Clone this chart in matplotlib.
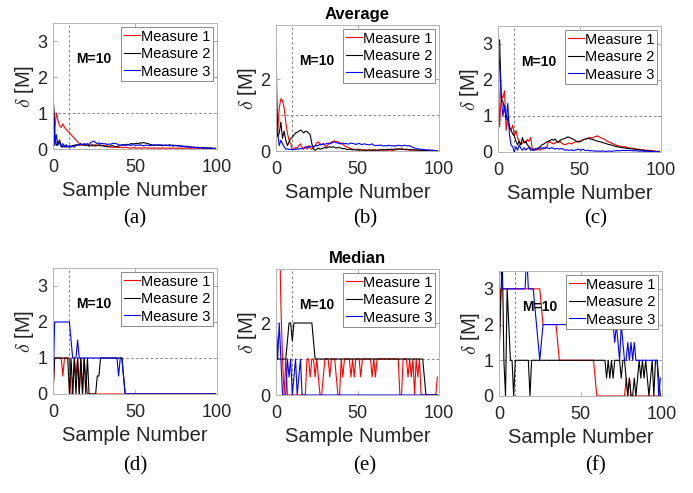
import numpy as np
import matplotlib
matplotlib.use("Agg")
import matplotlib.pyplot as plt

plt.rcParams['font.family'] = ['Liberation Sans', 'DejaVu Sans']
plt.rcParams['mathtext.fontset'] = 'cm'

labels = ['Measure 1', 'Measure 2', 'Measure 3']
colors = ['#ff0000', '#000000', '#0000ff']
captions = ['(a)', '(b)', '(c)', '(d)', '(e)', '(f)']
titles = ['', 'Average', '', '', 'Median', '']
xticks = [0, 50, 100]
M = 10
threshold = 1

# ---- Average, (a)
a_m1 = [1.55, 0.45, 1.0, 0.8, 0.65, 0.6, 0.7, 0.6, 0.55, 0.5,
        0.45, 0.4, 0.35, 0.3, 0.25, 0.2, 0.15, 0.1, 0.12, 0.12,
        0.1, 0.12, 0.1, 0.1, 0.08, 0.1, 0.12, 0.1, 0.1, 0.08,
        0.1, 0.08, 0.1, 0.08, 0.06, 0.05, 0.05, 0.04, 0.06, 0.05,
        0.04, 0.05, 0.04, 0.03, 0.04, 0.05, 0.03, 0.02, 0.03, 0.04,
        0.03, 0.02, 0.03, 0.03, 0.02, 0.03, 0.04, 0.03, 0.02, 0.03,
        0.02, 0.03, 0.03, 0.02, 0.03, 0.02, 0.02, 0.03, 0.02, 0.02,
        0.03, 0.02, 0.02, 0.03, 0.02, 0.02, 0.02, 0.03, 0.02, 0.02,
        0.02, 0.03, 0.02, 0.02, 0.02, 0.02, 0.03, 0.02, 0.02, 0.02,
        0.02, 0.02, 0.02, 0.01, 0.02, 0.01, 0.02, 0.01, 0.01, 0.01]
a_m2 = [1.6, 0.5, 0.1, 0.15, 0.25, 0.1, 0.05, 0.1, 0.05, 0.08,
        0.05, 0.08, 0.1, 0.1, 0.12, 0.1, 0.12, 0.14, 0.12, 0.1,
        0.12, 0.1, 0.08, 0.1, 0.12, 0.1, 0.08, 0.1, 0.12, 0.1,
        0.1, 0.08, 0.07, 0.06, 0.08, 0.08, 0.1, 0.08, 0.07, 0.06,
        0.08, 0.1, 0.12, 0.1, 0.12, 0.13, 0.12, 0.14, 0.15, 0.14,
        0.15, 0.16, 0.15, 0.17, 0.16, 0.18, 0.17, 0.16, 0.15, 0.13,
        0.12, 0.1, 0.11, 0.1, 0.12, 0.11, 0.1, 0.09, 0.1, 0.11,
        0.1, 0.12, 0.1, 0.11, 0.1, 0.1, 0.09, 0.1, 0.08, 0.08,
        0.07, 0.08, 0.07, 0.06, 0.06, 0.05, 0.05, 0.04, 0.05, 0.04,
        0.04, 0.03, 0.04, 0.03, 0.03, 0.02, 0.03, 0.02, 0.02, 0.02]
a_m3 = [1.65, 0.1, 0.4, 0.1, 0.2, 0.05, 0.15, 0.05, 0.12, 0.05,
        0.1, 0.05, 0.08, 0.05, 0.1, 0.12, 0.1, 0.15, 0.12, 0.15,
        0.13, 0.15, 0.12, 0.18, 0.2, 0.22, 0.18, 0.15, 0.17, 0.14,
        0.16, 0.14, 0.15, 0.12, 0.14, 0.13, 0.15, 0.16, 0.15, 0.14,
        0.12, 0.1, 0.11, 0.12, 0.1, 0.11, 0.12, 0.1, 0.11, 0.12,
        0.1, 0.11, 0.1, 0.12, 0.1, 0.09, 0.1, 0.11, 0.1, 0.09,
        0.1, 0.11, 0.12, 0.1, 0.11, 0.1, 0.12, 0.1, 0.11, 0.1,
        0.1, 0.09, 0.1, 0.08, 0.09, 0.1, 0.08, 0.09, 0.07, 0.08,
        0.06, 0.07, 0.05, 0.06, 0.05, 0.04, 0.05, 0.04, 0.04, 0.03,
        0.04, 0.03, 0.03, 0.02, 0.03, 0.02, 0.02, 0.02, 0.01, 0.01]

# ---- Average, (b)
b_m1 = [2.9, 0.5, 1.2, 1.45, 1.4, 1.2, 0.8, 0.5, 0.3, 0.2,
        0.05, 0.05, 0.1, 0.08, 0.15, 0.2, 0.1, 0.05, 0.12, 0.05,
        0.15, 0.08, 0.05, 0.1, 0.15, 0.22, 0.25, 0.2, 0.18, 0.2,
        0.15, 0.12, 0.18, 0.22, 0.25, 0.27, 0.28, 0.26, 0.25, 0.24,
        0.2, 0.18, 0.15, 0.12, 0.1, 0.08, 0.07, 0.05, 0.04, 0.05,
        0.04, 0.03, 0.04, 0.03, 0.02, 0.03, 0.02, 0.03, 0.02, 0.03,
        0.02, 0.03, 0.02, 0.02, 0.03, 0.02, 0.02, 0.03, 0.02, 0.02,
        0.03, 0.02, 0.02, 0.03, 0.04, 0.05, 0.04, 0.06, 0.05, 0.04,
        0.03, 0.04, 0.03, 0.02, 0.03, 0.02, 0.02, 0.03, 0.02, 0.02,
        0.02, 0.02, 0.01, 0.02, 0.01, 0.01, 0.02, 0.01, 0.01, 0.01]
b_m2 = [1.5, 0.4, 0.5, 0.8, 0.35, 0.55, 0.3, 0.15, 0.25, 0.35,
        0.38, 0.45, 0.5, 0.52, 0.55, 0.58, 0.55, 0.5, 0.55, 0.54,
        0.5, 0.45, 0.2, 0.05, 0.02, 0.05, 0.08, 0.05, 0.06, 0.08,
        0.1, 0.08, 0.1, 0.12, 0.1, 0.12, 0.1, 0.08, 0.1, 0.09,
        0.08, 0.06, 0.07, 0.05, 0.04, 0.05, 0.04, 0.03, 0.04, 0.03,
        0.03, 0.02, 0.03, 0.02, 0.03, 0.02, 0.02, 0.03, 0.02, 0.02,
        0.03, 0.02, 0.02, 0.03, 0.04, 0.03, 0.04, 0.03, 0.04, 0.05,
        0.04, 0.05, 0.04, 0.06, 0.05, 0.06, 0.05, 0.06, 0.05, 0.04,
        0.05, 0.04, 0.03, 0.04, 0.03, 0.03, 0.02, 0.03, 0.02, 0.02,
        0.02, 0.02, 0.01, 0.02, 0.01, 0.01, 0.01, 0.01, 0.01, 0.01]
b_m3 = [1.9, 0.5, 0.15, 0.3, 0.2, 0.12, 0.05, 0.06, 0.04, 0.05,
        0.04, 0.05, 0.04, 0.06, 0.05, 0.07, 0.06, 0.08, 0.1, 0.12,
        0.1, 0.12, 0.13, 0.12, 0.15, 0.14, 0.16, 0.18, 0.17, 0.2,
        0.19, 0.2, 0.22, 0.2, 0.22, 0.24, 0.25, 0.23, 0.22, 0.2,
        0.21, 0.22, 0.2, 0.21, 0.19, 0.2, 0.22, 0.21, 0.2, 0.18,
        0.2, 0.21, 0.19, 0.18, 0.2, 0.19, 0.18, 0.17, 0.18, 0.2,
        0.16, 0.15, 0.16, 0.15, 0.17, 0.15, 0.14, 0.15, 0.14, 0.16,
        0.15, 0.14, 0.15, 0.13, 0.15, 0.16, 0.15, 0.14, 0.15, 0.16,
        0.15, 0.14, 0.15, 0.12, 0.1, 0.08, 0.07, 0.06, 0.05, 0.05,
        0.04, 0.04, 0.03, 0.03, 0.03, 0.02, 0.02, 0.02, 0.01, 0.01]

# ---- Average, (c)
c_m1 = [2.8, 0.7, 1.6, 1.5, 1.7, 0.6, 1.0, 0.7, 0.6, 0.75,
        0.45, 0.6, 0.4, 0.3, 0.2, 0.25, 0.3, 0.25, 0.35, 0.3,
        0.4, 0.1, 0.08, 0.05, 0.06, 0.08, 0.05, 0.1, 0.08, 0.12,
        0.15, 0.3, 0.28, 0.25, 0.22, 0.25, 0.28, 0.26, 0.3, 0.25,
        0.22, 0.2, 0.22, 0.24, 0.25, 0.22, 0.25, 0.27, 0.28, 0.3,
        0.3, 0.32, 0.33, 0.35, 0.36, 0.38, 0.4, 0.4, 0.38, 0.42,
        0.43, 0.45, 0.42, 0.4, 0.38, 0.36, 0.33, 0.3, 0.28, 0.26,
        0.24, 0.22, 0.2, 0.18, 0.17, 0.16, 0.15, 0.14, 0.15, 0.13,
        0.12, 0.11, 0.1, 0.1, 0.09, 0.08, 0.08, 0.07, 0.06, 0.06,
        0.05, 0.05, 0.05, 0.04, 0.04, 0.03, 0.03, 0.02, 0.02, 0.02]
c_m2 = [3.15, 3.1, 1.5, 1.4, 1.2, 1.0, 0.9, 0.7, 0.6, 0.5,
        0.45, 0.3, 0.2, 0.3, 0.2, 0.4, 0.25, 0.3, 0.2, 0.15,
        0.1, 0.06, 0.05, 0.08, 0.1, 0.12, 0.15, 0.2, 0.22, 0.25,
        0.28, 0.3, 0.32, 0.35, 0.33, 0.36, 0.3, 0.28, 0.32, 0.35,
        0.36, 0.38, 0.4, 0.42, 0.4, 0.38, 0.36, 0.33, 0.3, 0.28,
        0.28, 0.3, 0.33, 0.35, 0.36, 0.38, 0.37, 0.36, 0.35, 0.33,
        0.32, 0.3, 0.29, 0.28, 0.27, 0.25, 0.24, 0.22, 0.21, 0.2,
        0.19, 0.17, 0.16, 0.15, 0.14, 0.13, 0.12, 0.12, 0.11, 0.1,
        0.1, 0.09, 0.09, 0.08, 0.08, 0.07, 0.06, 0.06, 0.05, 0.05,
        0.04, 0.04, 0.03, 0.03, 0.02, 0.02, 0.02, 0.01, 0.01, 0.01]
c_m3 = [3.1, 2.4, 1.5, 1.0, 1.3, 0.9, 1.35, 0.5, 0.2, 0.15,
        0.0, 0.15, 0.05, 0.2, 0.1, 0.05, 0.12, 0.05, 0.1, 0.12,
        0.05, 0.06, 0.05, 0.1, 0.08, 0.1, 0.12, 0.1, 0.12, 0.1,
        0.12, 0.1, 0.1, 0.12, 0.1, 0.08, 0.1, 0.09, 0.08, 0.1,
        0.08, 0.05, 0.06, 0.05, 0.05, 0.06, 0.04, 0.05, 0.06, 0.08,
        0.06, 0.05, 0.08, 0.05, 0.04, 0.05, 0.03, 0.04, 0.03, 0.03,
        0.02, 0.03, 0.02, 0.02, 0.03, 0.02, 0.02, 0.02, 0.03, 0.02,
        0.02, 0.03, 0.03, 0.04, 0.03, 0.04, 0.04, 0.05, 0.04, 0.04,
        0.05, 0.04, 0.04, 0.03, 0.04, 0.03, 0.03, 0.02, 0.03, 0.02,
        0.02, 0.02, 0.02, 0.01, 0.02, 0.01, 0.01, 0.01, 0.01, 0.01]

# ---- Median, (d)
d_m1 = [0, 1, 1, 1, 1, 1, 0.5, 1, 1, 1,
        1, 0, 0, 1, 0.5, 1, 0, 1, 0, 1,
        0.5, 0, 0, 0, 0, 0, 0, 0, 0, 0,
        0, 0, 0, 0, 0, 0, 0, 0, 0, 0,
        0, 0, 0, 0, 0, 0, 0, 0, 0, 0,
        0, 0, 0, 0, 0, 0, 0, 0, 0, 0,
        0, 0, 0, 0, 0, 0, 0, 0, 0, 0,
        0, 0, 0, 0, 0, 0, 0, 0, 0, 0,
        0, 0, 0, 0, 0, 0, 0, 0, 0, 0,
        0, 0, 0, 0, 0, 0, 0, 0, 0, 0]
d_m2 = [0, 1, 1, 1, 1, 1, 1, 1, 1, 1,
        0, 1, 0, 1, 0, 1, 0, 1, 0, 1,
        0, 1, 0, 0, 0, 0, 0, 0.5, 0.5, 1,
        1, 1, 1, 1, 1, 1, 1, 1, 1, 1,
        1, 1, 1, 0.5, 0, 0, 0, 0, 0, 0,
        0, 0, 0, 0, 0, 0, 0, 0, 0, 0,
        0, 0, 0, 0, 0, 0, 0, 0, 0, 0,
        0, 0, 0, 0, 0, 0, 0, 0, 0, 0,
        0, 0, 0, 0, 0, 0, 0, 0, 0, 0,
        0, 0, 0, 0, 0, 0, 0, 0, 0, 0]
d_m3 = [0, 2, 2, 2, 2, 2, 2, 2, 2, 2,
        2, 1.5, 1, 1, 1, 1.5, 1, 1, 1, 1,
        1, 1, 1, 1, 1, 1, 1, 1, 1, 1,
        1, 1, 1, 1, 1, 1, 1, 1, 1, 1,
        0.5, 1, 1, 0.5, 0, 0, 0, 0, 0, 0,
        0, 0, 0, 0, 0, 0, 0, 0, 0, 0,
        0, 0, 0, 0, 0, 0, 0, 0, 0, 0,
        0, 0, 0, 0, 0, 0, 0, 0, 0, 0,
        0, 0, 0, 0, 0, 0, 0, 0, 0, 0,
        0, 0, 0, 0, 0, 0, 0, 0, 0, 0]

# ---- Median, (e)
e_m1 = [8, 6.5, 5, 2.5, 1, 0, 1, 0, 0, 0,
        0, 0, 0, 0, 0, 0, 0, 0, 0, 1,
        1, 0.5, 1, 1, 0.5, 1, 0.5, 0, 0, 0.5,
        1, 1, 1, 0.5, 1, 1, 1, 0.5, 0, 0,
        1, 0.5, 1, 1, 1, 1, 0.5, 1, 0.5, 1,
        1, 1, 0.5, 1, 1, 1, 1, 1, 1, 0.5,
        1, 0.5, 1, 1, 1, 1, 1, 1, 1, 1,
        1, 1, 1, 1, 1, 1, 0, 0, 1, 1,
        1, 0.5, 1, 0.5, 1, 0, 1, 0.5, 1, 0,
        0, 0, 0, 0, 0, 0, 0, 0, 0, 0.5]
e_m2 = [2, 1, 1, 1, 1, 1, 1, 1.5, 2, 2,
        1.5, 2, 2, 2, 2, 2, 2, 2, 2, 2,
        2, 2, 2, 1.5, 1, 1, 1, 1, 1, 1,
        1, 1, 1, 1, 1, 1, 1, 1, 1, 1,
        1, 1, 1, 1, 1, 1, 1, 1, 1, 1,
        1, 1, 1, 1, 1, 1, 1, 1, 1, 1,
        1, 1, 1, 1, 1, 1, 1, 1, 1, 1,
        1, 1, 1, 1, 1, 1, 1, 1, 1, 1,
        1, 1, 1, 1, 1, 1, 1, 1, 1, 1,
        1, 0.5, 0, 0, 0, 0, 0, 0, 0, 0]
e_m3 = [2, 1, 2, 1, 0, 0, 0, 1, 0.5, 1,
        0, 0.5, 1, 0, 0.5, 1, 0, 0, 0, 0,
        0, 0, 0, 0, 0, 0, 0, 0, 0, 0,
        0, 0, 0, 0, 0, 0, 0, 0, 0, 0,
        0, 0, 0, 0, 0, 0, 0, 0, 0, 0,
        0, 0, 0, 0, 0, 0, 0, 0, 0, 0,
        0, 0, 0, 0, 0, 0, 0, 0, 0, 0,
        0, 0, 0, 0, 0, 0, 0, 0, 0, 0,
        0, 0, 0, 0, 0, 0, 0, 0, 0, 0,
        0, 0, 0, 0, 0, 0, 0, 0, 0, 0]

# ---- Median, (f)
f_m1 = [1, 3, 3, 3, 3, 3, 3, 3, 3, 3,
        3, 3, 3, 3, 3, 3, 3, 3, 3, 3,
        3, 3, 3, 3, 3, 3, 2.5, 2, 2, 2,
        2, 2, 2, 2, 2, 2, 1.5, 1, 1, 1,
        1, 1, 1, 1, 1, 1, 1, 1, 1, 1,
        1, 1, 1, 1, 1, 1, 1, 1, 1, 0.5,
        0, 0, 0, 0, 0, 0, 0, 0, 0, 0,
        0, 0, 0, 0, 0, 0, 0, 0, 0.5, 0,
        0.5, 0, 0, 0, 0, 0, 0, 0, 0, 0,
        0, 0, 0, 0, 0, 0, 0, 0, 0, 0]
f_m2 = [1, 2.5, 4, 1, 0, 3, 2, 1, 1, 0,
        1, 1, 1, 1, 1, 1, 1, 1, 1, 0,
        1, 1, 1, 1, 1, 1, 1, 1, 1, 1,
        1, 1, 1, 1, 1, 1, 1, 1, 1, 1,
        1, 1, 1, 1, 1, 1, 1, 1, 1, 1,
        1, 1, 1, 1, 1, 1, 1, 1, 1, 1,
        1, 1, 1, 1, 1, 1, 0.5, 1, 0.5, 1,
        0.5, 1, 1, 1, 1, 0.5, 1, 1, 0.5, 0,
        0.5, 0, 0, 0.5, 0, 0.5, 1, 0.5, 1, 0.5,
        1, 0.5, 0, 0.5, 1, 0, 1, 1, 0.5, 0]
f_m3 = [3, 4, 3, 3, 3, 3, 3, 3, 3, 3,
        3, 3, 3, 3, 3, 3, 3, 4, 3, 3,
        3, 3, 2.5, 2, 1.5, 1, 1.5, 2, 2, 2,
        2, 2, 2, 2, 2, 2, 2, 2, 2, 2,
        2, 2, 2, 2, 2, 2, 2, 2, 2, 2,
        2, 2, 2, 2, 2, 2, 2, 2, 2, 2,
        2, 2, 2, 2, 2, 2, 2, 2, 2, 2,
        2, 1.5, 2, 1.5, 1, 2, 1.5, 1, 1, 1.5,
        1, 1.5, 1, 1.5, 1, 1, 1, 1, 1, 1,
        1, 1, 1, 1, 1, 1, 1, 1, 0, 0.5]

panels = [(a_m1, a_m2, a_m3), (b_m1, b_m2, b_m3), (c_m1, c_m2, c_m3),
          (d_m1, d_m2, d_m3), (e_m1, e_m2, e_m3), (f_m1, f_m2, f_m3)]
yticks = [[0, 1, 2, 3], [0, 2], [0, 1, 2, 3],
          [0, 1, 2, 3], [0, 2], [0, 1, 2, 3]]

W, H = 693, 493
# axes boxes in pixels: left, top, right, bottom
boxes = [(53, 23, 217, 149), (276, 25, 439, 151), (498, 26, 661, 152),
         (53, 268, 217, 394), (276, 269, 439, 395), (499, 271, 662, 396)]
cap_pos = [(135, 219), (365, 219), (596, 219),
           (135, 466), (365, 466), (596, 466)]

fig = plt.figure(figsize=(W / 100, H / 100), dpi=100)

for i, series in enumerate(panels):
    l, t, r, b = boxes[i]
    ax = fig.add_axes([l / W, 1 - b / H, (r - l) / W, (b - t) / H])
    ax.axvline(M, color='#808080', lw=0.7, ls=(0, (2.5, 2.5)), zorder=1)
    ax.axhline(threshold, color='#808080', lw=0.7, ls=(0, (2.5, 2.5)), zorder=1)
    for vals, c, lab in zip(series, colors, labels):
        ax.plot(np.arange(len(vals)), vals, color=c, lw=0.8, label=lab, zorder=2)
    ax.set_xlim(0, 100)
    ax.set_ylim(0, 3.5)
    ax.set_xticks(xticks)
    ax.set_yticks(yticks[i])
    ax.tick_params(direction='in', length=3, width=0.6, color='#a0a0a0',
                   labelcolor='#262626', labelsize=13, top=True, right=True)
    ax.tick_params(axis='x', pad=7)
    ax.tick_params(axis='y', pad=4)
    for sp in ax.spines.values():
        sp.set_color('#b4b4b4')
        sp.set_linewidth(0.7)
    ax.set_xlabel('Sample Number', fontsize=14.5, color='#262626', labelpad=4)
    ax.set_ylabel(r'$\delta$ [M]', fontsize=14.5, color='#262626', labelpad=1)
    ax.text(14, 2.5, 'M=10', fontsize=10, fontweight='bold', va='center', ha='left')
    leg = ax.legend(loc='upper right', fontsize=10.5, handlelength=1.1,
                    handletextpad=0.1, borderpad=0.2, labelspacing=0.24,
                    borderaxespad=0.25, fancybox=False, framealpha=1)
    leg.get_frame().set_edgecolor('#8c8c8c')
    leg.get_frame().set_linewidth(0.7)
    if titles[i]:
        ax.set_title(titles[i], fontsize=12, fontweight='bold', pad=4)
    cx, cy = cap_pos[i]
    fig.text(cx / W, 1 - cy / H, captions[i], ha='center', va='center',
             fontsize=15, family='Liberation Serif')

fig.savefig('out.png', dpi=100)
